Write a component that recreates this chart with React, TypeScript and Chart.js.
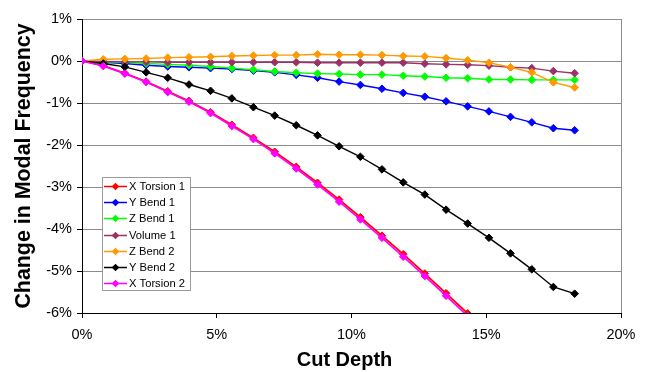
import React, { useEffect, useRef } from "react";
import { Chart, registerables } from "chart.js";

Chart.register(...registerables);

// ---- Data ----
const cutDepth = [
  0, 0.79, 1.59, 2.38, 3.18, 3.97, 4.77, 5.56, 6.36, 7.15, 7.95, 8.74,
  9.54, 10.33, 11.13, 11.92, 12.72, 13.51, 14.31, 15.1, 15.9, 16.69, 17.49, 18.28,
];

const xTorsion1 = [
  0, -0.11, -0.29, -0.49, -0.72, -0.95, -1.22, -1.52, -1.83, -2.16, -2.52, -2.9,
  -3.3, -3.72, -4.16, -4.6, -5.06, -5.53, -6.01, -6.49,
];
const yBend1 = [
  0, -0.03, -0.06, -0.1, -0.13, -0.15, -0.17, -0.19, -0.23, -0.27, -0.33, -0.4,
  -0.49, -0.57, -0.66, -0.76, -0.85, -0.96, -1.08, -1.2, -1.33, -1.46, -1.6, -1.65,
];
const zBend1 = [
  0, -0.02, -0.03, -0.06, -0.08, -0.1, -0.13, -0.17, -0.21, -0.25, -0.28, -0.3,
  -0.31, -0.325, -0.325, -0.35, -0.37, -0.4, -0.41, -0.44, -0.44, -0.45, -0.45, -0.45,
];
const volume1 = [
  0, -0.01, -0.02, -0.02, -0.03, -0.03, -0.03, -0.03, -0.03, -0.03, -0.03, -0.04,
  -0.04, -0.04, -0.04, -0.04, -0.065, -0.08, -0.09, -0.11, -0.15, -0.17, -0.24, -0.29,
];
const zBend2 = [
  0, 0.04, 0.05, 0.06, 0.08, 0.09, 0.1, 0.12, 0.13, 0.14, 0.14, 0.16,
  0.15, 0.15, 0.14, 0.12, 0.11, 0.07, 0.02, -0.04, -0.15, -0.27, -0.51, -0.63,
];
const yBend2 = [
  0, -0.06, -0.14, -0.27, -0.4, -0.56, -0.71, -0.89, -1.1, -1.3, -1.53, -1.77,
  -2.03, -2.28, -2.58, -2.89, -3.18, -3.54, -3.87, -4.21, -4.58, -4.96, -5.38, -5.54,
];
const xTorsion2 = [
  0, -0.12, -0.3, -0.5, -0.74, -0.97, -1.24, -1.55, -1.86, -2.2, -2.56, -2.94,
  -3.35, -3.77, -4.21, -4.66, -5.12, -5.59, -6.07, -6.55,
];

const seriesNames = [
  "X Torsion 1", "Y Bend 1", "Z Bend 1", "Volume 1", "Z Bend 2", "Y Bend 2", "X Torsion 2",
];
const seriesValues = [xTorsion1, yBend1, zBend1, volume1, zBend2, yBend2, xTorsion2];
const seriesColors = ["#FF0000", "#0000FF", "#00FF00", "#993366", "#FF9900", "#000000", "#FF00FF"];

const xTitle = "Cut Depth";
const yTitle = "Change in Modal Frequency";

const FONT = "'Liberation Sans', Arial, Helvetica, sans-serif";
const GRID = "#8c8c8c";

const insideLegend = {
  id: "insideLegend",
  afterDraw(chart: any) {
    const ctx = chart.ctx as CanvasRenderingContext2D;
    ctx.save();
    const bx = 102.5, by = 177.5, bw = 88, bh = 113;
    ctx.fillStyle = "#ffffff";
    ctx.fillRect(bx, by, bw, bh);
    ctx.strokeStyle = "#9a9a9a";
    ctx.lineWidth = 1;
    ctx.strokeRect(bx, by, bw, bh);
    chart.data.datasets.forEach((ds: any, i: number) => {
      const cy = Math.round(185.7 + i * 16.27) + 0.5;
      ctx.strokeStyle = ds.borderColor;
      ctx.lineWidth = 1.5;
      ctx.beginPath();
      ctx.moveTo(104, cy);
      ctx.lineTo(127, cy);
      ctx.stroke();
      const mx = 115.5, r = 3.8;
      ctx.fillStyle = ds.backgroundColor;
      ctx.beginPath();
      ctx.moveTo(mx - r, cy);
      ctx.lineTo(mx, cy - r);
      ctx.lineTo(mx + r, cy);
      ctx.lineTo(mx, cy + r);
      ctx.closePath();
      ctx.fill();
      ctx.fillStyle = "#000";
      ctx.font = `11.2px ${FONT}`;
      ctx.textBaseline = "middle";
      ctx.textAlign = "left";
      ctx.fillText(ds.label, 129, cy);
    });
    ctx.restore();
  },
};

// x-axis title, drawn slightly left of the plot-area centre as in the reference
const xAxisTitle = {
  id: "xAxisTitle",
  afterDraw(chart: any) {
    const ctx = chart.ctx as CanvasRenderingContext2D;
    const area = chart.chartArea;
    ctx.save();
    ctx.fillStyle = "#000";
    ctx.font = `bold 20px ${FONT}`;
    ctx.textAlign = "center";
    ctx.textBaseline = "middle";
    ctx.fillText(xTitle, (area.left + area.right) / 2 - 7, 360);
    ctx.restore();
  },
};

export default function App() {
  const ref = useRef<HTMLCanvasElement | null>(null);

  useEffect(() => {
    document.body.style.margin = "0";
    const canvas = ref.current;
    if (!canvas) return;
    Chart.defaults.font.family = FONT;

    const datasets = seriesNames.map((name, i) => ({
      label: name,
      data: seriesValues[i].map((v, j) => ({ x: cutDepth[j], y: v })),
      borderColor: seriesColors[i],
      backgroundColor: seriesColors[i],
      pointBackgroundColor: seriesColors[i],
      pointBorderColor: seriesColors[i],
      pointStyle: "rectRot" as const,
      pointRadius: 3.8,
      pointBorderWidth: 1,
      borderWidth: i === 0 || i === 6 ? 1.7 : 1.4,
      tension: 0,
      order: seriesNames.length - i,
    }));

    const chart = new Chart(canvas, {
      type: "line",
      data: { datasets },
      plugins: [insideLegend, xAxisTitle],
      options: {
        responsive: false,
        animation: false,
        devicePixelRatio: 1,
        layout: { padding: { top: 19, right: 27, bottom: 0, left: 0 } },
        plugins: { legend: { display: false }, tooltip: { enabled: false } },
        scales: {
          x: {
            type: "linear",
            min: 0,
            max: 20,
            ticks: {
              stepSize: 5,
              callback: (v: any) => `${v}%`,
              color: "#000",
              font: { size: 14.5 },
              padding: 8,
              maxRotation: 0,
            },
            grid: {
              color: (c: any) => (c.tick && c.tick.value === 20 ? GRID : "rgba(0,0,0,0)"),
              tickColor: "#000",
              tickLength: 5,
              lineWidth: 1,
            },
            border: { color: "#000", width: 1 },
            title: { display: false, text: xTitle },
            afterFit: (s: any) => {
              s.height = 59;
            },
          },
          y: {
            type: "linear",
            min: -6,
            max: 1,
            ticks: {
              stepSize: 1,
              callback: (v: any) => `${v}%`,
              color: "#000",
              font: { size: 14.5 },
              padding: 5,
            },
            grid: {
              color: (c: any) => (c.tick && c.tick.value === -6 ? "rgba(0,0,0,0)" : GRID),
              tickColor: "#000",
              tickLength: 5,
              lineWidth: 1,
            },
            border: { color: "#000", width: 1 },
            title: {
              display: true,
              text: yTitle,
              color: "#000",
              font: { size: 21.4, weight: "bold" },
              padding: { top: 11, bottom: 0 },
            },
            afterFit: (s: any) => {
              s.width = 82;
            },
          },
        },
      },
    });
    return () => chart.destroy();
  }, []);

  return (
    <div style={{ width: 648, height: 372, background: "#fff" }}>
      <canvas ref={ref} width={648} height={372} />
    </div>
  );
}
